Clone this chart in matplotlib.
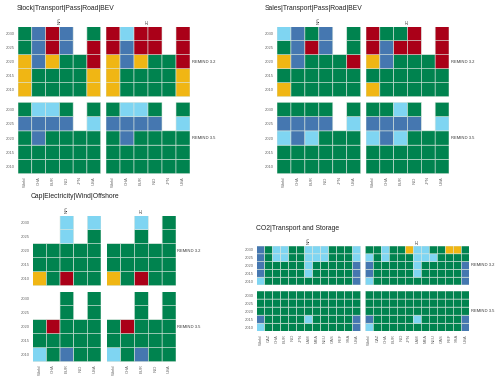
import numpy as np
import matplotlib
matplotlib.use('Agg')
import matplotlib.pyplot as plt
from matplotlib.colors import ListedColormap

plt.rcParams['font.family'] = ['Liberation Sans', 'DejaVu Sans']

# categories: G green, B blue, L light blue, R red, Y yellow, . missing
codes = {'G': 0, 'B': 1, 'L': 2, 'R': 3, 'Y': 4}
cmap = ListedColormap(['#00834f', '#4577b0', '#7fd5f2', '#aa0018', '#f0b614'])

years = [2010, 2015, 2020, 2025, 2030]
scenarios = ['NPi', '2C']
models = ['REMIND 3.2', 'REMIND 3.5']

# rows listed top (2030) to bottom (2010)
stock_regions = ['World', 'CHA', 'EUR', 'IND', 'JPN', 'USA']
stock_32_a = ['GBRB.G', 'GBRB.R', 'YBYGGR', 'YGGGGY', 'YGGGGY']
stock_32_b = ['RLRR.R', 'RBRR.R', 'YBYGGR', 'YGGGGY', 'YGGGGY']
stock_35_a = ['GLLG.G', 'BBBB.L', 'GBGGGG', 'GGGGGG', 'GGGGGG']
stock_35_b = ['GLLG.G', 'BBBB.L', 'GBGGGG', 'GGGGGG', 'GGGGGG']

sales_regions = ['World', 'CHA', 'EUR', 'IND', 'JPN', 'USA']
sales_32_a = ['LBGB.G', 'GBRB.G', 'YBGGGR', 'GGGGGG', 'YGGGGG']
sales_32_b = ['RGGR.R', 'RBRR.R', 'YBGGGR', 'GGGGGG', 'YGGGGG']
sales_35_a = ['GGGG.G', 'BBBB.L', 'LBLGGG', 'GGGGGG', 'GGGGGG']
sales_35_b = ['GGLG.G', 'BBBB.L', 'LBLGGG', 'GGGGGG', 'GGGGGG']

wind_regions = ['World', 'CHA', 'EUR', 'IND', 'USA']
wind_32_a = ['..L.L', '..L.G', 'GGGGG', 'GGGGG', 'YGRGG']
wind_32_b = ['..L.G', '..G.G', 'GGGGG', 'GGGGG', 'YGRGG']
wind_35_a = ['..G.G', '..G.G', 'GRGGG', 'GGGGG', 'LGBGG']
wind_35_b = ['..G.G', '..G.G', 'GRGGG', 'GGGGG', 'LGBGG']

co2_regions = ['World', 'CAZ', 'CHA', 'EUR', 'IND', 'JPN', 'LAM',
               'MEA', 'NEU', 'OAS', 'REF', 'SSA', 'USA']
co2_32_a = ['BGLLGGLLLGGGL', 'BGLLGGLLLGGGL', 'BGGGGGLGGGGGB',
            'BGGGGGLGGGGGB', 'LGGGGGGGGGGGB']
co2_32_b = ['GGLGGYLLGGYYG', 'LGLGGGLLLGGGG', 'BGGGGGLGGGGGB',
            'BGGGGGLGGGGGB', 'LGGGGGGGGGGGB']
co2_35_a = ['GGGGGGGGGGGGG', 'GGGGGGGGGGGGG', 'GGGGGGGGGGGGG',
            'BGGGGGLGGGGGB', 'LGGGGGGGGGGGB']
co2_35_b = co2_35_a

W, H = 500, 382
fig = plt.figure(figsize=(W / 100, H / 100), dpi=100)


def grid(rows):
    a = np.array([[codes.get(c, np.nan) for c in r] for r in rows[::-1]], float)
    return np.ma.masked_invalid(a)


def facet(x0, x1, y0, y1, rows, regions, ylab, xlab, strip, rlab):
    ax = fig.add_axes([x0 / W, 1 - y1 / H, (x1 - x0) / W, (y1 - y0) / H])
    # pcolor drops masked (missing) cells, so they stay blank
    ax.pcolor(grid(rows), cmap=cmap, vmin=-0.5, vmax=4.5,
              edgecolors='#d9e6de', linewidth=0.4)
    ax.set_xlim(0, len(regions))
    ax.set_ylim(0, len(years))
    for s in ax.spines.values():
        s.set_visible(False)
    ax.tick_params(length=0, pad=2, labelsize=3, labelcolor='#666666')
    ax.set_yticks(np.arange(len(years)) + 0.5)
    ax.set_yticklabels(years if ylab else [])
    ax.set_xticks(np.arange(len(regions)) + 0.5)
    ax.set_xticklabels(regions if xlab else [], rotation=90)
    if strip:
        ax.text(0.5, 1.04, strip, transform=ax.transAxes, rotation=90,
                ha='center', va='bottom', fontsize=3, color='#333333')
    if rlab:
        ax.text(1.02, 0.5, rlab, transform=ax.transAxes, ha='left',
                va='center', fontsize=3, color='#333333')
    return ax


def panel(title, tx, ty, xa, xb, ya, yb, regions, data):
    fig.text(tx / W, 1 - ty / H, title, fontsize=4.9, ha='left', va='center',
             color='#222222')
    for i, (y0, y1) in enumerate([ya, yb]):
        for j, (x0, x1) in enumerate([xa, xb]):
            facet(x0, x1, y0, y1, data[i][j], regions,
                  ylab=(j == 0), xlab=(i == 1),
                  strip=scenarios[j] if i == 0 else None,
                  rlab=models[i] if j == 1 else None)


panel('Stock|Transport|Pass|Road|BEV', 17, 8, (18, 100.7), (106, 190),
      (26.7, 96.7), (102.3, 173.7), stock_regions,
      [[stock_32_a, stock_32_b], [stock_35_a, stock_35_b]])
panel('Sales|Transport|Pass|Road|BEV', 265, 8, (277, 360.7), (366, 449),
      (26.7, 96.7), (102.3, 173.7), sales_regions,
      [[sales_32_a, sales_32_b], [sales_35_a, sales_35_b]])
panel('Cap|Electricity|Wind|Offshore', 31, 197, (32.7, 101), (106.7, 176),
      (215.7, 285.7), (291.7, 361.7), wind_regions,
      [[wind_32_a, wind_32_b], [wind_35_a, wind_35_b]])
panel('CO2|Transport and Storage', 256, 228, (256.7, 360.7), (365.3, 469.3),
      (246, 285), (291, 331.3), co2_regions,
      [[co2_32_a, co2_32_b], [co2_35_a, co2_35_b]])

fig.savefig('out.png', dpi=100)
